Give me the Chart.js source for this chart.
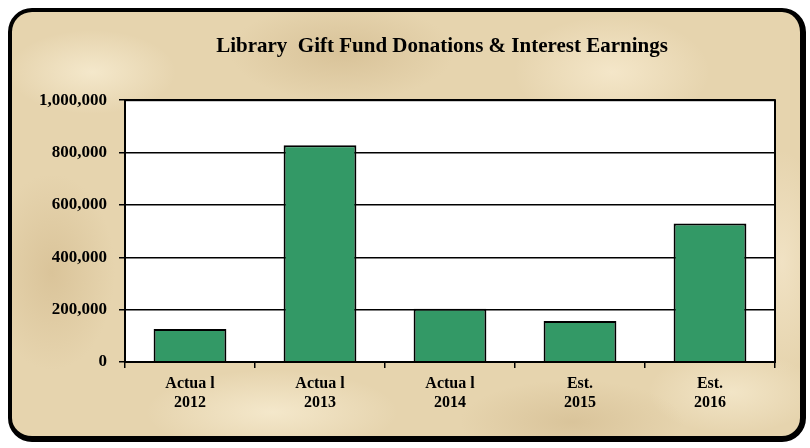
<!DOCTYPE html>
<html>
<head>
<meta charset="utf-8">
<script src="https://cdn.jsdelivr.net/npm/chart.js@4"></script>
<style>
  html, body { margin: 0; padding: 0; background: #ffffff; }
  #wrap { position: relative; width: 810px; height: 448px; }
  #paper {
    position: absolute; left: 8px; top: 8px; width: 788px; height: 424px;
    border-style: solid; border-color: #000; border-width: 4px 6px 6px 4px;
    border-radius: 24px;
    background-color: #e6d4ae;
    background-image:
      radial-gradient(ellipse 120px 60px at 80px 60px, rgba(250,240,215,0.7), rgba(250,240,215,0) 70%),
      radial-gradient(ellipse 160px 70px at 330px 40px, rgba(205,180,135,0.55), rgba(205,180,135,0) 70%),
      radial-gradient(ellipse 140px 80px at 600px 60px, rgba(250,238,212,0.7), rgba(250,238,212,0) 70%),
      radial-gradient(ellipse 90px 140px at 40px 260px, rgba(210,185,140,0.6), rgba(210,185,140,0) 70%),
      radial-gradient(ellipse 180px 60px at 260px 400px, rgba(250,240,215,0.7), rgba(250,240,215,0) 70%),
      radial-gradient(ellipse 160px 60px at 560px 410px, rgba(205,180,135,0.5), rgba(205,180,135,0) 70%),
      radial-gradient(ellipse 60px 160px at 770px 250px, rgba(245,232,205,0.7), rgba(245,232,205,0) 70%),
      radial-gradient(ellipse 120px 60px at 720px 380px, rgba(250,240,215,0.6), rgba(250,240,215,0) 70%);
  }
  #chart { position: absolute; left: 0; top: 0; }
</style>
</head>
<body>
<div id="wrap">
  <div id="paper"></div>
  <canvas id="chart" width="810" height="448"></canvas>
</div>
<script>
// categorías (dos líneas por etiqueta)
const categorias = [
  ["Actua l", "2012"],
  ["Actua l", "2013"],
  ["Actua l", "2014"],
  ["Est.", "2015"],
  ["Est.", "2016"]
];
// valores
const donaciones = [126000, 828000, 203000, 157000, 529000];
const ticksY = [0, 200000, 400000, 600000, 800000, 1000000];

const fuente = "'Liberation Serif', 'Times New Roman', serif";

// fondo blanco y marco negro del área del gráfico
const marcoArea = {
  id: "marcoArea",
  afterLayout(chart) {
    // el título del original está un poco a la izquierda del centro del área
    if (chart.titleBlock) {
      chart.titleBlock.left -= 8;
      chart.titleBlock.right -= 8;
    }
  },
  beforeDraw(chart) {
    const { ctx, chartArea: a } = chart;
    ctx.save();
    ctx.fillStyle = "#ffffff";
    ctx.fillRect(a.left, a.top, a.right - a.left, a.bottom - a.top);
    ctx.restore();
  },
  afterDatasetsDraw(chart) {
    const { ctx, chartArea: a } = chart;
    ctx.save();
    ctx.strokeStyle = "#000";
    ctx.lineWidth = 2;
    ctx.strokeRect(a.left, a.top, a.right - a.left, a.bottom - a.top);
    ctx.restore();
  }
};

new Chart(document.getElementById("chart"), {
  type: "bar",
  data: {
    labels: categorias,
    datasets: [{
      data: donaciones,
      backgroundColor: "#339966",
      borderColor: "#000000",
      borderWidth: 2,
      barPercentage: 0.56,
      categoryPercentage: 1
    }]
  },
  options: {
    responsive: false,
    animation: false,
    layout: { padding: { top: 10, right: 35, bottom: 36, left: 0 } },
    plugins: {
      legend: { display: false },
      tooltip: { enabled: false },
      title: {
        display: true,
        fullSize: false,
        text: "Library  Gift Fund Donations & Interest Earnings",
        color: "#000",
        font: { family: fuente, size: 21, weight: "bold" },
        padding: { top: 24, bottom: 41 }
      }
    },
    scales: {
      x: {
        grid: { drawOnChartArea: false, drawTicks: true, tickLength: 6, color: "#000", lineWidth: 1.5 },
        border: { display: false },
        ticks: {
          color: "#000",
          padding: 6,
          maxRotation: 0,
          font: { family: fuente, size: 16, weight: "bold", lineHeight: 1.2 }
        },
        afterFit(scale) { scale.height = 50; }
      },
      y: {
        min: 0,
        max: 1000000,
        afterBuildTicks(scale) { scale.ticks = ticksY.map(v => ({ value: v })); },
        grid: { color: "#000", lineWidth: 1.5, tickLength: 6 },
        border: { display: false },
        ticks: {
          color: "#000",
          padding: 12,
          font: { family: fuente, size: 17, weight: "bold" },
          callback: (v) => v.toLocaleString("en-US")
        },
        afterFit(scale) { scale.width = 125; }
      }
    }
  },
  plugins: [marcoArea]
});
</script>
</body>
</html>
